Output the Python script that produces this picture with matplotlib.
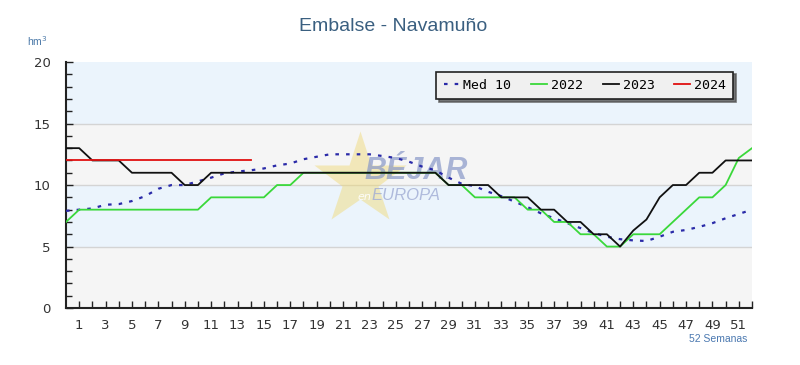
import matplotlib.pyplot as plt
import numpy as np

weeks = np.arange(0, 53)

med10 = [7.9, 8.0, 8.1, 8.4, 8.45, 8.7, 9.1, 9.7, 10.0, 10.0,
         10.3, 10.6, 10.95, 11.1, 11.2, 11.35, 11.6, 11.75, 12.1, 12.3,
         12.5, 12.5, 12.5, 12.5, 12.36, 12.2, 11.9, 11.5, 11.2, 10.6,
         10.1, 9.9, 9.45, 9.1, 8.65, 8.2, 7.7, 7.3, 6.9, 6.5,
         6.1, 5.8, 5.6, 5.5, 5.45, 5.8, 6.2, 6.35, 6.6, 6.9,
         7.3, 7.65, 8.0]
y2022 = [7, 8, 8, 8, 8, 8, 8, 8, 8, 8,
         8, 9, 9, 9, 9, 9, 10, 10, 11, 11,
         11, 11, 11, 11, 11, 11, 11, 11, 11, 10,
         10, 9, 9, 9, 9, 8, 8, 7, 7, 6,
         6, 5, 5, 6, 6, 6, 7, 8, 9, 9,
         10, 12.2, 13]
y2023 = [13, 13, 12, 12, 12, 11, 11, 11, 11, 10,
         10, 11, 11, 11, 11, 11, 11, 11, 11, 11,
         11, 11, 11, 11, 11, 11, 11, 11, 11, 10,
         10, 10, 10, 9, 9, 9, 8, 8, 7, 7,
         6, 6, 5, 6.3, 7.2, 9, 10, 10, 11, 11,
         12, 12, 12]
y2024 = [12] * 15

fig = plt.figure(figsize=(8, 3.65), dpi=100)
ax = fig.add_axes([0.0825, 0.156, 0.8575, 0.674])

# fondo en bandas
band_cols = ['#f5f5f5', '#ebf4fc', '#f5f5f5', '#ebf4fc']
for i, c in enumerate(band_cols):
    ax.axhspan(i * 5, i * 5 + 5, color=c, lw=0, zorder=0)
for v in [5, 10, 15]:
    ax.axhline(v, color='#d4d4d4', lw=1, zorder=1)

# marca de agua
ax.plot([0.428], [0.52], marker='*', ms=70, color='#f0d870', alpha=0.45,
        mec='none', transform=ax.transAxes, zorder=1)
ax.text(0.435, 0.525, 'BÉJAR', transform=ax.transAxes, fontsize=22,
        fontweight='bold', style='italic', color='#8898c8', alpha=0.7,
        family='Liberation Sans', zorder=1)
ax.text(0.425, 0.44, 'en', transform=ax.transAxes, fontsize=8,
        style='italic', color='#ffffff', alpha=0.9, zorder=1)
ax.text(0.445, 0.44, 'EUROPA', transform=ax.transAxes, fontsize=12,
        style='italic', color='#a0acd4', alpha=0.8,
        family='Liberation Sans', zorder=1)

ax.plot(weeks, med10, color='#2a2aa8', lw=1.6, ls=(0, (1.6, 3.2)),
        label='Med 10', zorder=3)
ax.plot(weeks, y2022, color='#3ad83a', lw=1.3, label='2022', zorder=3)
ax.plot(weeks, y2023, color='#111111', lw=1.3, label='2023', zorder=4)
ax.plot(weeks[:len(y2024)], y2024, color='#e01010', lw=1.3, label='2024',
        zorder=4)

ax.set_xlim(0, 52)
ax.set_ylim(0, 20)
ax.set_yticks([0, 5, 10, 15, 20])
ax.set_yticks(np.arange(0, 21, 1), minor=True)
ax.set_xticks(np.arange(1, 53))
ax.set_xticklabels([str(w) if w % 2 == 1 else '' for w in range(1, 53)])

for s in ['top', 'right']:
    ax.spines[s].set_visible(False)
for s in ['left', 'bottom']:
    ax.spines[s].set_linewidth(1.5)
    ax.spines[s].set_color('#222222')

ax.tick_params(axis='both', which='both', direction='in', color='#222222',
               labelsize=9.5, labelcolor='#333333', width=1)
ax.tick_params(axis='y', which='major', length=5, pad=11)
ax.tick_params(axis='y', which='minor', length=4)
ax.tick_params(axis='x', which='major', length=5, pad=8)

leg = ax.legend(ncol=4, loc='upper right', bbox_to_anchor=(0.9825, 0.988),
                prop={'family': 'DejaVu Sans Mono', 'size': 9.5},
                handlelength=1.2, handletextpad=0.3, columnspacing=1.5,
                fancybox=False, shadow={'color': '#555555', 'alpha': 0.8},
                framealpha=1, borderpad=0.55)
leg.get_frame().set_edgecolor('#222222')
leg.get_frame().set_facecolor('#f0f0f0')
leg.get_frame().set_linewidth(1.2)

fig.text(0.491, 0.928, 'Embalse - Navamuño', ha='center', va='center',
         fontsize=14, color='#3a5f80', family='Liberation Sans')
fig.text(0.034, 0.888, 'hm$^3$', ha='left', va='center', fontsize=7.5,
         color='#4a78a8', family='Liberation Sans')
fig.text(0.934, 0.072, '52 Semanas', ha='right', va='center', fontsize=7.5,
         color='#4a78b0', family='Liberation Sans')

fig.savefig('out.png', dpi=100)
